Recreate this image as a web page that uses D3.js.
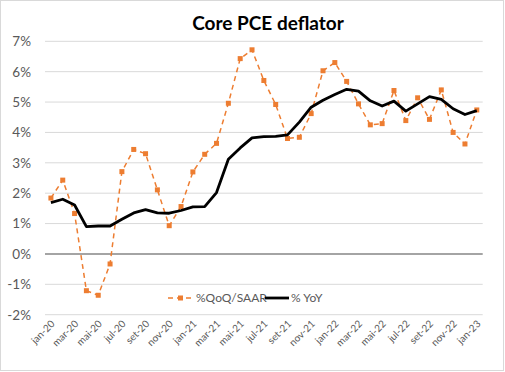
<!DOCTYPE html>
<html>
<head>
<meta charset="utf-8">
<script src="https://cdn.jsdelivr.net/npm/d3@7"></script>
<style>
  body { margin: 0; background: #fff; }
  svg { display: block; font-family: Lato, "Open Sans", sans-serif; }
</style>
</head>
<body>
<svg id="chart" width="505" height="372"></svg>
<script>
// months jan-20 .. jan-23
var months = ['jan-20','fev-20','mar-20','abr-20','mai-20','jun-20','jul-20','ago-20','set-20','out-20','nov-20','dez-20',
	'jan-21','fev-21','mar-21','abr-21','mai-21','jun-21','jul-21','ago-21','set-21','out-21','nov-21','dez-21',
	'jan-22','fev-22','mar-22','abr-22','mai-22','jun-22','jul-22','ago-22','set-22','out-22','nov-22','dez-22',
	'jan-23'];

var qoqSaar = [1.84, 2.43, 1.33, -1.21, -1.36, -0.33, 2.71, 3.44, 3.30, 2.11, 0.93, 1.56,
	2.70, 3.28, 3.64, 4.96, 6.43, 6.72, 5.71, 4.92, 3.80, 3.84, 4.62, 6.03,
	6.30, 5.68, 4.94, 4.25, 4.29, 5.38, 4.39, 5.14, 4.43, 5.40, 4.00, 3.62,
	4.74];

var yoy = [1.69, 1.80, 1.61, 0.90, 0.92, 0.92, 1.14, 1.35, 1.46, 1.35, 1.34, 1.43,
	1.55, 1.56, 2.02, 3.12, 3.49, 3.82, 3.86, 3.87, 3.92, 4.34, 4.83, 5.06,
	5.25, 5.42, 5.36, 5.04, 4.87, 5.03, 4.70, 4.94, 5.18, 5.09, 4.78, 4.59,
	4.72];

var yTicks = [-2, -1, 0, 1, 2, 3, 4, 5, 6, 7];

var orange = '#ED7D31';
var svg = d3.select('#chart');

// chart border
svg.append('rect')
	.attr('x', 0.5).attr('y', 0.5)
	.attr('width', 503).attr('height', 370)
	.attr('fill', '#fff')
	.attr('stroke', '#d9d9d9');

var plot = { left: 45, right: 482.7, top: 41.3, bottom: 314.7 };

var xScale = d3.scaleBand()
	.domain(months)
	.range([plot.left, plot.right]);
var xPos = function(i) { return xScale(months[i]) + xScale.bandwidth() / 2; };

var yScale = d3.scaleLinear()
	.domain([-2, 7])
	.range([plot.bottom, plot.top]);

// title
svg.append('text')
	.attr('x', 268).attr('y', 30)
	.attr('text-anchor', 'middle')
	.style('font-size', '19px')
	.style('font-weight', 'bold')
	.attr('fill', '#000')
	.text('Core PCE deflator');

// y grid
svg.append('g').selectAll('line')
	.data(yTicks.filter(function(d) { return d !== 0; }))
	.enter().append('line')
	.attr('x1', plot.left).attr('x2', plot.right)
	.attr('y1', function(d) { return yScale(d); })
	.attr('y2', function(d) { return yScale(d); })
	.attr('stroke', '#d9d9d9')
	.attr('stroke-width', 1);

// y axis labels
var yAxis = svg.append('g')
	.attr('transform', 'translate(' + (plot.left - 14) + ',0)')
	.call(d3.axisLeft(yScale).tickValues(yTicks).tickSize(0).tickPadding(0)
		.tickFormat(function(d) { return d + '%'; }));
yAxis.select('.domain').remove();
yAxis.selectAll('text')
	.attr('fill', '#595959')
	.style('font-size', '13.5px')
	.style('font-family', 'Lato, sans-serif');

// zero line
svg.append('line')
	.attr('x1', plot.left).attr('x2', plot.right)
	.attr('y1', yScale(0)).attr('y2', yScale(0))
	.attr('stroke', '#868686')
	.attr('stroke-width', 1.5);

// x labels
var xLabelData = months.map(function(m, i) { return i; }).filter(function(i) { return i % 2 === 0; });
svg.append('g').selectAll('text')
	.data(xLabelData)
	.enter().append('text')
	.attr('transform', function(i) { return 'translate(' + (xPos(i) + 2) + ',' + 322 + ') rotate(-45)'; })
	.attr('text-anchor', 'end')
	.attr('dy', '0.35em')
	.attr('fill', '#595959')
	.style('font-size', '10px')
	.text(function(i) { return months[i]; });

// QoQ dashed line
var qoqLine = d3.line()
	.x(function(d, i) { return xPos(i); })
	.y(function(d) { return yScale(d); });
svg.append('path')
	.datum(qoqSaar)
	.attr('d', qoqLine)
	.attr('fill', 'none')
	.attr('stroke', orange)
	.attr('stroke-width', 1.5)
	.attr('stroke-dasharray', '5,4');

svg.append('g').selectAll('rect')
	.data(qoqSaar)
	.enter().append('rect')
	.attr('x', function(d, i) { return xPos(i) - 2.5; })
	.attr('y', function(d) { return yScale(d) - 2.5; })
	.attr('width', 5).attr('height', 5)
	.attr('fill', orange);

// YoY line
var yoyLine = d3.line()
	.x(function(d, i) { return xPos(i); })
	.y(function(d) { return yScale(d); });
svg.append('path')
	.datum(yoy)
	.attr('d', yoyLine)
	.attr('fill', 'none')
	.attr('stroke', '#000')
	.attr('stroke-width', 2.8)
	.attr('stroke-linejoin', 'round');

// legend
var legend = svg.append('g').attr('transform', 'translate(0,298)');
legend.append('line')
	.attr('x1', 168).attr('x2', 193)
	.attr('stroke', orange).attr('stroke-width', 1.5)
	.attr('stroke-dasharray', '5,4');
legend.append('rect')
	.attr('x', 178).attr('y', -2.5).attr('width', 5).attr('height', 5)
	.attr('fill', orange);
legend.append('text')
	.attr('x', 196).attr('dy', '0.35em')
	.attr('fill', '#595959')
	.style('font-size', '12px')
	.text('%QoQ/SAAR');
legend.append('line')
	.attr('x1', 265).attr('x2', 289)
	.attr('stroke', '#000').attr('stroke-width', 2.8);
legend.append('text')
	.attr('x', 291).attr('dy', '0.35em')
	.attr('fill', '#595959')
	.style('font-size', '12px')
	.text('% YoY');
</script>
</body>
</html>
